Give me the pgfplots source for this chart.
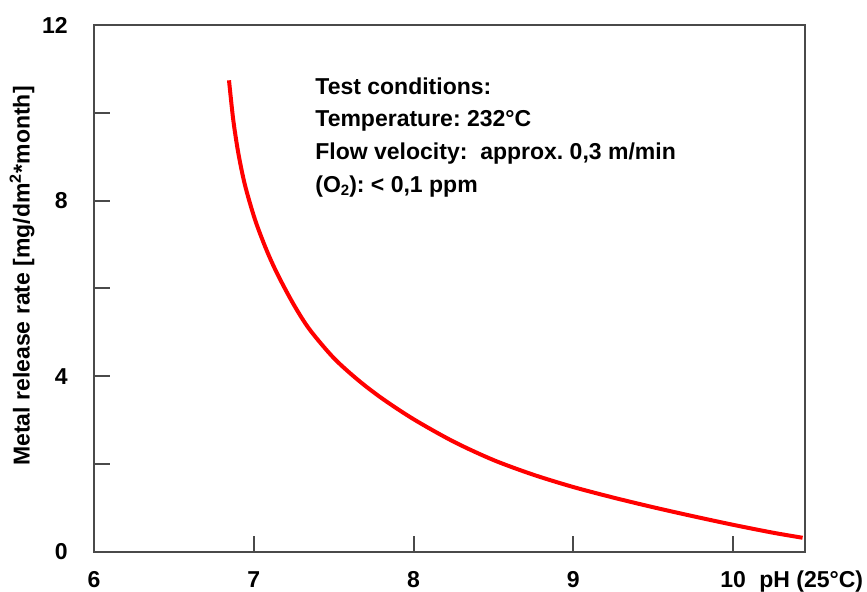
\documentclass[border=0pt]{standalone}
\usepackage{fontspec}
\setmainfont{Liberation Sans}
\usepackage{pgfplots}
\pgfplotsset{compat=1.18}
\definecolor{axgray}{HTML}{4A4A4A}
\frenchspacing
\begin{document}
\begin{tikzpicture}[font=\fontsize{11.5}{13.8}\selectfont\bfseries]
\begin{axis}[
  at={(0pt,0pt)}, anchor=south west,
  scale only axis, width=355.5pt, height=263.5pt,
  xmin=6, xmax=10.45, ymin=0, ymax=12,
  xtick={6,7,8,9,10}, xticklabels={6,7,8,9,10},
  ytick={0,2,4,6,8,10,12}, yticklabels={0,,4,,8,,12},
  tick align=inside, tick pos=left,
  major tick length=8pt,
  axis line style={axgray, line width=1pt},
  every tick/.style={axgray, line width=1pt},
  /pgf/number format/assume math mode=true,
  xticklabel style={anchor=base, yshift=-18pt, inner sep=0pt},
  yticklabel style={anchor=east, xshift=-13pt, inner sep=0pt},
  clip=false,
]
\addplot[red, line width=2pt, smooth, tension=0.5] coordinates {
(6.845,10.740)
(6.871,9.856)
(6.903,9.088)
(6.945,8.353)
(7.008,7.565)
(7.080,6.874)
(7.150,6.314)
(7.250,5.634)
(7.350,5.064)
(7.500,4.419)
(7.650,3.924)
(7.800,3.504)
(8.000,3.024)
(8.250,2.514)
(8.500,2.094)
(8.750,1.759)
(9.000,1.479)
(9.250,1.239)
(9.500,1.019)
(9.750,0.814)
(10.000,0.619)
(10.250,0.439)
(10.435,0.324)
};
\end{axis}
\node[anchor=base west, inner sep=0pt] at (332.5pt,-18pt) {pH (25°C)};
\node[rotate=90, anchor=center, inner sep=0pt] at (-36pt,138pt) {Metal release rate [mg/dm\textsuperscript{2}*month]};
\node[anchor=base west, inner sep=0pt] at (110.5pt,228.75pt) {Test conditions:};
\node[anchor=base west, inner sep=0pt] at (110.5pt,212.75pt) {Temperature: 232°C};
\node[anchor=base west, inner sep=0pt] at (110.5pt,196.25pt) {Flow velocity:\ \ approx.\ 0,3 m/min};
\node[anchor=base west, inner sep=0pt] at (110.5pt,179.75pt) {(O\raisebox{-0.25ex}{\fontsize{7.5}{9}\selectfont 2}): < 0,1 ppm};
\pgfresetboundingbox
\path[use as bounding box] (-47pt,-20pt) rectangle (386.5pt,276pt);
\end{tikzpicture}
\end{document}
